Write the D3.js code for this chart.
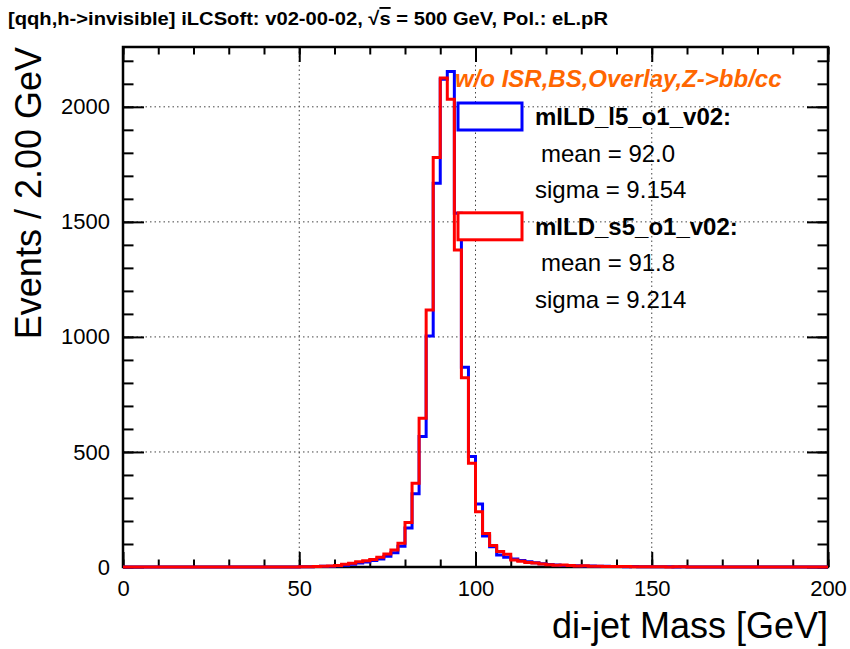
<!DOCTYPE html>
<html>
<head>
<meta charset="utf-8">
<script src="https://cdn.jsdelivr.net/npm/d3@7"></script>
<style>
body { margin: 0; background: #fff; }
text { font-family: "Liberation Sans", Helvetica, Arial, sans-serif; }
</style>
</head>
<body>
<svg id="drawing_region"></svg>
<script>
// histogram binning: 100 bins of 2 GeV from 0 to 200
const x_min = 0;
const x_max = 200;
const bin_width = 2;

// bin contents (one entry per bin)
const blue_counts = [
    0, 0, 0, 0, 0, 0, 0, 0, 0, 0,
    0, 0, 0, 0, 0, 0, 0, 0, 0, 0,
    0, 0, 0, 0, 0, 1, 1, 2, 3, 3,
    5, 8, 12, 17, 22, 28, 35, 47, 62, 90,
    170, 318, 567, 1004, 1668, 2120, 2153, 1537, 868, 480,
    274, 135, 88, 52, 42, 35, 28, 23, 18, 14,
    11, 9, 7, 6, 5, 4, 4, 3, 3, 2,
    2, 1, 2, 1, 1, 1, 1, 1, 0, 1,
    0, 0, 0, 0, 0, 0, 0, 0, 0, 0,
    0, 0, 0, 0, 0, 0, 0, 0, 0, 0 ];

const red_counts = [
    0, 0, 0, 0, 0, 0, 0, 0, 0, 0,
    0, 0, 0, 0, 0, 0, 0, 0, 0, 0,
    0, 0, 0, 0, 0, 1, 1, 2, 3, 4,
    7, 12, 16, 23, 27, 33, 42, 57, 74, 103,
    193, 364, 647, 1117, 1780, 2125, 2033, 1378, 822, 451,
    240, 146, 93, 67, 55, 30, 25, 20, 17, 13,
    10, 8, 9, 6, 4, 5, 3, 3, 2, 2,
    2, 2, 1, 1, 1, 1, 1, 0, 1, 1,
    0, 0, 0, 0, 0, 0, 0, 0, 0, 0,
    0, 0, 0, 0, 0, 0, 0, 0, 0, 0 ];

const y_top = 2260;
const x_ticks = [0, 50, 100, 150, 200];
const x_minor_ticks = d3.range(0, 201, 10);
const y_ticks = [0, 500, 1000, 1500, 2000];
const y_minor_ticks = d3.range(0, 2201, 100);

const legend_names = ['mILD_l5_o1_v02:', 'mILD_s5_o1_v02:'];
const legend_means = ['92.0', '91.8'];
const legend_sigmas = ['9.154', '9.214'];

class HistPlot {

    constructor( config ) {
        this.config = config;
        this.colors = ['#0000ff', '#ff0000'];
        this.init();
    }

    init() {
        let self = this;

        self.svg = d3.select( self.config.parent )
            .attr('width', self.config.width)
            .attr('height', self.config.height);

        self.inner_width = self.config.width - self.config.margin.left - self.config.margin.right;
        self.inner_height = self.config.height - self.config.margin.top - self.config.margin.bottom;

        self.chart = self.svg.append('g')
            .attr('transform', `translate(${self.config.margin.left}, ${self.config.margin.top})`);

        self.xscale = d3.scaleLinear()
            .range( [0, self.inner_width] );

        self.yscale = d3.scaleLinear()
            .range( [self.inner_height, 0] );

        // title (narrow font in the original, squeezed to its width)
        let title = self.svg.append('text')
            .attr('x', 8)
            .attr('y', 25)
            .attr('textLength', 600)
            .attr('lengthAdjust', 'spacingAndGlyphs')
            .style('font-size', '19px')
            .style('font-weight', 'bold');
        title.append('tspan').text('[qqh,h->invisible] iLCSoft: v02-00-02,  √');
        title.append('tspan').style('text-decoration', 'overline').text('s');
        title.append('tspan').text(' = 500 GeV, Pol.: eL.pR');

        self.svg.append('text')
            .attr('x', self.config.width - self.config.margin.right)
            .attr('y', 638)
            .attr('text-anchor', 'end')
            .style('font-size', '36px')
            .text('di-jet Mass [GeV]');

        self.svg.append('text')
            .attr('transform', 'rotate(-90)')
            .attr('x', -self.config.margin.top)
            .attr('y', 41)
            .attr('text-anchor', 'end')
            .style('font-size', '36px')
            .text('Events / 2.00 GeV');
    }

    update() {
        let self = this;

        self.xscale.domain( [x_min, x_max] );
        self.yscale.domain( [0, y_top] );

        self.render();
    }

    render() {
        let self = this;
        let w = self.inner_width, h = self.inner_height;

        // dotted grid
        self.chart.selectAll('.vgrid')
            .data(x_ticks.slice(1, -1))
            .join('line')
            .attr('x1', d => self.xscale(d)).attr('x2', d => self.xscale(d))
            .attr('y1', 0).attr('y2', h)
            .attr('stroke', '#444').attr('stroke-width', 1)
            .attr('stroke-dasharray', '1.5,3');

        self.chart.selectAll('.hgrid')
            .data(y_ticks.slice(1))
            .join('line')
            .attr('x1', 0).attr('x2', w)
            .attr('y1', d => self.yscale(d)).attr('y2', d => self.yscale(d))
            .attr('stroke', '#444').attr('stroke-width', 1)
            .attr('stroke-dasharray', '1.5,3');

        // axes with ticks on all four sides
        let axes = [
            { axis: d3.axisBottom(self.xscale), tr: `translate(0,${h})`, major: x_ticks, minor: x_minor_ticks, len: 15, labels: true },
            { axis: d3.axisTop(self.xscale), tr: 'translate(0,0)', major: x_ticks, minor: x_minor_ticks, len: 15, labels: false },
            { axis: d3.axisLeft(self.yscale), tr: 'translate(0,0)', major: y_ticks, minor: y_minor_ticks, len: 21, labels: true },
            { axis: d3.axisRight(self.yscale), tr: `translate(${w},0)`, major: y_ticks, minor: y_minor_ticks, len: 21, labels: false }
        ];
        axes.forEach(a => {
            let g_minor = self.chart.append('g')
                .attr('transform', a.tr)
                .call(a.axis.tickValues(a.minor).tickSizeInner(-a.len / 2).tickSizeOuter(0).tickFormat(''));
            g_minor.select('.domain').remove();
            g_minor.selectAll('line').attr('stroke-width', 2);

            let g_major = self.chart.append('g')
                .attr('transform', a.tr)
                .call(a.axis.tickValues(a.major).tickSizeInner(-a.len).tickPadding(13)
                    .tickFormat(a.labels ? d3.format('d') : ''));
            g_major.select('.domain').remove();
            g_major.selectAll('line').attr('stroke-width', 2);
            g_major.selectAll('text')
                .style('font-size', '22px')
                .style('font-family', '"Liberation Sans", Helvetica, Arial, sans-serif')
                .attr('fill', '#000');
        });

        // frame
        self.chart.append('rect')
            .attr('x', 0).attr('y', 0)
            .attr('width', w).attr('height', h)
            .attr('fill', 'none')
            .attr('stroke', '#000')
            .attr('stroke-width', 2.5);

        // step histograms
        let step = d3.line()
            .x(d => self.xscale(d[0]))
            .y(d => self.yscale(d[1]))
            .curve(d3.curveStepAfter);

        [blue_counts, red_counts].forEach((counts, i) => {
            let pts = counts.map((c, k) => [x_min + k * bin_width, c]);
            pts.push([x_max, counts[counts.length - 1]]);
            self.chart.append('path')
                .datum(pts)
                .attr('d', step)
                .attr('fill', 'none')
                .attr('stroke', self.colors[i])
                .attr('stroke-width', 3);
        });

        // legend
        self.svg.append('text')
            .attr('x', 455)
            .attr('y', 87)
            .style('font-size', '24px')
            .style('font-weight', 'bold')
            .style('font-style', 'italic')
            .attr('fill', '#ff6600')
            .text('w/o ISR,BS,Overlay,Z->bb/cc');

        let row_h = 36.6;
        legend_names.forEach((name, i) => {
            let base = 125 + i * 3 * row_h;
            self.svg.append('rect')
                .attr('x', 458).attr('y', base - 22)
                .attr('width', 64).attr('height', 27)
                .attr('fill', '#fff')
                .attr('stroke', self.colors[i])
                .attr('stroke-width', 3);
            self.svg.append('text')
                .attr('x', 535).attr('y', base)
                .style('font-size', '24px')
                .style('font-weight', 'bold')
                .text(name);
            self.svg.append('text')
                .attr('x', 541).attr('y', base + row_h)
                .style('font-size', '24px')
                .text('mean = ' + legend_means[i]);
            self.svg.append('text')
                .attr('x', 535).attr('y', base + 2 * row_h)
                .style('font-size', '24px')
                .text('sigma = ' + legend_sigmas[i]);
        });
    }
}

var config = {
    parent: '#drawing_region',
    width: 850,
    height: 649,
    margin: {top:47, right:22, bottom:82, left:123} };

let hist_plot = new HistPlot( config );
hist_plot.update();
</script>
</body>
</html>
